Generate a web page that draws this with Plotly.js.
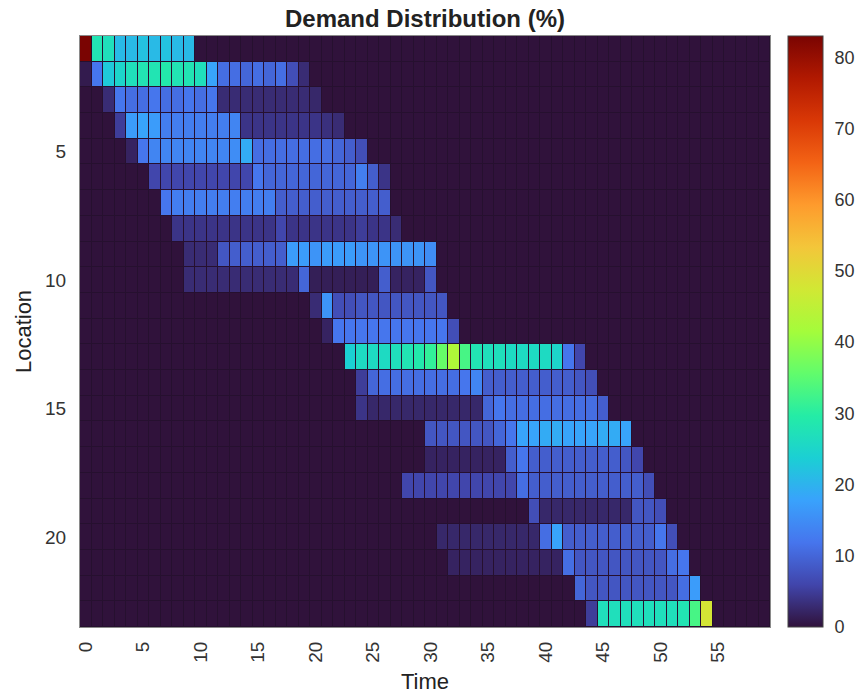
<!DOCTYPE html>
<html>
<head>
<meta charset="utf-8">
<script src="https://cdn.plot.ly/plotly-3.0.1.min.js"></script>
<style>html,body{margin:0;padding:0;background:#fff;}#chart{width:868px;height:697px;}</style>
</head>
<body>
<div id="chart"></div>
<script>
// ---- Data (Demand Distribution %, Location x Time) ----
const timeTicks = [0, 5, 10, 15, 20, 25, 30, 35, 40, 45, 50, 55];
const locationTicks = [5, 10, 15, 20];
const colorbarTicks = [0, 10, 20, 30, 40, 50, 60, 70, 80];
const nTimes = 60;
const nLocations = 23;

// first time index with a value, for each location (1..23)
const startTime = [0, 0, 2, 3, 4, 6, 7, 8, 9, 9, 20, 21, 23, 24, 24, 30, 30, 28, 39, 31, 32, 43, 44];

const loc01 = [83, 28, 27, 21, 21, 22, 21, 22, 21, 21];
const loc02 = [1, 12, 23, 25, 27, 28, 28, 29, 28, 28, 27, 18, 11, 11, 10, 11, 10, 11, 7, 3];
const loc03 = [3, 12, 11, 11, 12, 11, 11, 12, 11, 12, 3, 3, 3, 3, 3, 3, 3, 3, 2.5];
const loc04 = [5, 17, 18, 17, 13, 13, 13, 13, 13, 13, 14, 4, 4, 4, 4, 4, 4, 4, 3.5, 3];
const loc05 = [2, 12, 14, 14, 14, 14, 14, 14, 14, 15, 19, 11, 11, 11, 11, 11, 11, 11, 10, 9, 7];
const loc06 = [6, 6, 6, 6, 6, 6, 6, 6, 6, 12, 10, 10, 10, 10, 10, 10, 10, 10, 13, 9, 4];
const loc07 = [12, 13, 13, 13, 13, 13, 13, 13, 13, 13, 9, 9, 9, 9, 9, 9, 9, 9, 9, 9];
const loc08 = [4, 4, 4, 4, 4, 4, 4, 4, 4, 6, 4, 4, 4, 4, 4, 4, 5, 4, 4, 3];
const loc09 = [3, 3, 3, 8, 9, 9, 9, 9, 9, 17, 17, 16, 17, 17, 17, 16, 16, 16, 16, 16, 16, 15];
const loc10 = [3, 3, 3, 3, 3, 3, 3, 3, 3, 3, 10, 1.5, 1.5, 1.5, 1.5, 1.5, 1.5, 9, 2, 2, 2, 8];
const loc11 = [3, 16, 7, 7, 8, 8, 8, 8, 8, 8, 8, 8];
const loc12 = [2, 12, 12, 12, 12, 12, 12, 12, 12, 12, 12, 7];
const loc13 = [24, 26, 26, 26, 27, 28, 29, 31, 36, 43, 33, 28, 27, 27, 26, 26, 26, 26, 25, 12, 6];
const loc14 = [5, 10, 11, 11, 11, 11, 11, 11, 11, 12, 14, 9, 9, 9, 9, 9, 9, 9, 9, 8, 7];
const loc15 = [4, 2.5, 2.5, 2.5, 2.5, 2.5, 2.5, 2.5, 2.5, 2.5, 2.5, 10, 12, 11, 11, 11, 11, 11, 11, 11, 11, 9];
const loc16 = [8, 8, 8, 8, 8, 8, 10, 12, 18, 18, 19, 19, 18, 18, 18, 19, 19, 18];
const loc17 = [2, 2, 2, 2, 2, 2, 2, 9, 12, 9, 9, 9, 9, 9, 9, 9, 9, 8, 6];
const loc18 = [6, 6, 6, 6, 6, 6, 6, 6, 6, 6, 11, 9, 9, 9, 9, 9, 9, 9, 9, 9, 9, 7];
const loc19 = [7, 2.5, 2.5, 2.5, 2.5, 2.5, 2.5, 2.5, 2.5, 8, 8, 7];
const loc20 = [2.5, 2.5, 2.5, 2.5, 2.5, 2.5, 2.5, 2.5, 2.5, 11, 18, 9, 9, 9, 9, 9, 9, 9, 9, 12, 7];
const loc21 = [2, 2, 2, 2, 2, 2, 2, 2, 2, 2, 11, 8, 8, 8, 8, 8, 8, 8, 8, 11, 12];
const loc22 = [10, 8, 8, 8, 8, 8, 8, 8, 8, 11, 17];
const loc23 = [5, 27, 27, 27, 27, 27, 27, 27, 28, 33, 48];

const locationRows = [loc01, loc02, loc03, loc04, loc05, loc06, loc07, loc08, loc09, loc10, loc11, loc12,
  loc13, loc14, loc15, loc16, loc17, loc18, loc19, loc20, loc21, loc22, loc23];

// ---- Build matrix ----
const times = Array.from({length: nTimes}, (_, i) => i);
const locations = Array.from({length: nLocations}, (_, i) => i + 1);
const z = locationRows.map((vals, r) => {
  const row = new Array(nTimes).fill(0);
  vals.forEach((v, k) => { row[startTime[r] + k] = v; });
  return row;
});

// ---- Turbo colormap stops (style) ----
const turboColors = ['#30123b', '#4145ab', '#4675ed', '#39a2fc', '#1bcfd4', '#24eca6', '#61fc6c',
  '#a4fc3b', '#d1e834', '#f3c63a', '#fe9b2d', '#f36315', '#d93806', '#b11901', '#7a0402'];
const turboScale = turboColors.map((c, i) => [i / (turboColors.length - 1), c]);

const trace = {
  type: 'heatmap',
  x: times,
  y: locations,
  z: z,
  zmin: 0,
  zmax: 83,
  colorscale: turboScale,
  xgap: 1,
  ygap: 1,
  hoverongaps: false,
  colorbar: {
    x: 1.026, xanchor: 'left', xref: 'paper',
    y: 0.5, yanchor: 'middle', len: 1, lenmode: 'fraction',
    thickness: 35, thicknessmode: 'pixels',
    outlinewidth: 1, outlinecolor: '#444',
    tickvals: colorbarTicks,
    ticks: 'outside', ticklen: 8, tickcolor: 'rgba(0,0,0,0)',
    tickfont: {size: 18, color: '#333'},
    ypad: 0, xpad: 0
  }
};

const layout = {
  width: 868, height: 697,
  margin: {l: 80, r: 96, t: 36, b: 70, pad: 0},
  paper_bgcolor: '#ffffff',
  plot_bgcolor: '#26102f',
  font: {family: 'Liberation Sans, Arial, sans-serif', color: '#333', size: 18},
  title: {
    text: '<b>Demand Distribution (%)</b>',
    x: 0.5, xref: 'paper', xanchor: 'center',
    y: 1 - 19/697, yref: 'container', yanchor: 'middle',
    font: {size: 24, color: '#222'}
  },
  xaxis: {
    range: [-0.5, 59.5],
    tickmode: 'array', tickvals: timeTicks, ticktext: timeTicks.map(String),
    tickangle: -90,
    ticks: '', showgrid: false, zeroline: false,
    showline: true, mirror: true, linecolor: '#8a8a8a', linewidth: 1,
    tickfont: {size: 19, color: '#333'},
    ticklabelstandoff: 6,
    title: {text: 'Time', font: {size: 22, color: '#222'}, standoff: 11}
  },
  yaxis: {
    range: [23.5, 0.5],
    tickmode: 'array', tickvals: locationTicks, ticktext: locationTicks.map(String),
    ticks: '', showgrid: false, zeroline: false,
    showline: true, mirror: true, linecolor: '#8a8a8a', linewidth: 1,
    tickfont: {size: 19, color: '#333'},
    ticklabelstandoff: 9,
    title: {text: 'Location', font: {size: 22, color: '#222'}, standoff: 7}
  }
};

Plotly.newPlot('chart', [trace], layout, {displayModeBar: false, staticPlot: true});
</script>
</body>
</html>
